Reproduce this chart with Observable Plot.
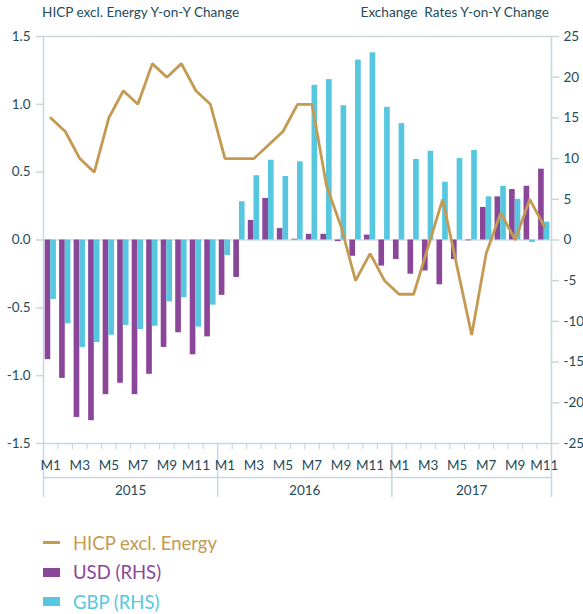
<!DOCTYPE html>
<html>
<head>
<meta charset="utf-8">
<script src="https://cdn.jsdelivr.net/npm/d3@7"></script>
<script src="https://cdn.jsdelivr.net/npm/@observablehq/plot@0.6"></script>
<style>
  html, body { margin: 0; padding: 0; background: #fff; }
  body { width: 583px; height: 614px; font-family: Lato, "Open Sans", sans-serif; color: #1e4b5a; }
  #header { position: relative; height: 26px; font-size: 13.6px; }
  #header .l { position: absolute; left: 42px; top: 4px; }
  #header .r { position: absolute; right: 34px; top: 4px; white-space: pre; }
  #legend { padding-top: 2px; padding-left: 43px; }
  .item { height: 29.5px; display: flex; align-items: center; font-size: 18.5px; }
  .sw { display: inline-block; width: 17px; margin-right: 13px; }
</style>
</head>
<body>
<div id="header"><span class="l">HICP excl. Energy Y-on-Y Change</span><span class="r">Exchange  Rates Y-on-Y Change</span></div>
<div id="chart"></div>
<div id="legend"></div>
<script>
// Months Jan 2015 – Nov 2017
const years = ["2015", "2016", "2017"];
const yearMonths = [12, 12, 11];
const monthLabels = ["M1","M2","M3","M4","M5","M6","M7","M8","M9","M10","M11","M12"];

// HICP excl. Energy, y-on-y % (LHS)
const hicp = [0.9, 0.8, 0.6, 0.5, 0.9, 1.1, 1.0, 1.3, 1.2, 1.3, 1.1, 1.0,
              0.6, 0.6, 0.6, 0.7, 0.8, 1.0, 1.0, 0.4, 0.1, -0.3, -0.1, -0.3,
              -0.4, -0.4, -0.05, 0.3, -0.2, -0.7, -0.1, 0.2, 0.0, 0.3, 0.1];
// USD y-on-y % (RHS)
const usd = [-14.7, -17.0, -21.8, -22.2, -19.0, -17.6, -19.0, -16.5, -13.2, -11.4, -14.1, -11.9,
             -6.8, -4.6, 2.4, 5.1, 1.4, 0.1, 0.7, 0.7, -0.2, -2.0, 0.6, -3.2,
             -2.4, -4.2, -3.8, -5.5, -2.4, -0.1, 4.0, 5.3, 6.2, 6.6, 8.7];
// GBP y-on-y % (RHS)
const gbp = [-7.3, -10.3, -13.2, -12.6, -11.7, -10.5, -11.0, -10.6, -7.6, -7.1, -10.7, -8.0,
             -1.9, 4.7, 7.9, 9.8, 7.8, 9.6, 19.0, 19.7, 16.5, 22.1, 23.0, 16.3,
             14.3, 9.9, 10.9, 7.1, 10.0, 11.0, 5.3, 6.6, 5.0, -0.3, 2.2];

const leftTicks = [-1.5, -1.0, -0.5, 0.0, 0.5, 1.0, 1.5];
const rightTicks = [-25, -20, -15, -10, -5, 0, 5, 10, 15, 20, 25];

const cLine = "#c49a52", cUsd = "#8a4699", cGbp = "#56c7df";
const cAxis = "#c9d7dd", cText = "#1e4b5a";

const n = hicp.length;
const idx = d3.range(n);
const k = leftTicks[leftTicks.length - 1] / rightTicks[rightTicks.length - 1]; // RHS -> LHS units

// Year boundaries and centers
const yearStarts = [];
{ let s = 0; for (const m of yearMonths) { yearStarts.push(s); s += m; } }
const yearCenters = yearStarts.map((s, j) => s + yearMonths[j] / 2);
const innerBoundaries = idx.slice(1).filter(i => !yearStarts.includes(i));
const monthOf = i => { let j = 0; while (j + 1 < yearStarts.length && yearStarts[j + 1] <= i) j++; return i - yearStarts[j]; };
const oddCenters = idx.filter(i => monthOf(i) % 2 === 0).map(i => i + 0.5);

const chart = Plot.plot({
  width: 583,
  height: 500,
  marginTop: 10,
  marginBottom: 83,
  marginLeft: 43,
  marginRight: 32,
  style: {fontFamily: "Lato, 'Open Sans', sans-serif", fontSize: "13px", background: "white", overflow: "visible"},
  x: {domain: [0, n], axis: null},
  y: {domain: [leftTicks[0], leftTicks[leftTicks.length - 1]], axis: null},
  marks: [
    Plot.ruleY([0], {stroke: "#d5dfe3", strokeWidth: 1.5}),
    Plot.rectY(idx, {x1: i => i + 0.11, x2: i => i + 0.5, y1: 0, y2: i => usd[i] * k, fill: cUsd}),
    Plot.rectY(idx, {x1: i => i + 0.5, x2: i => i + 0.89, y1: 0, y2: i => gbp[i] * k, fill: cGbp}),
    Plot.line(idx, {x: i => i + 0.5, y: i => hicp[i], stroke: cLine, strokeWidth: 2.8, strokeLinejoin: "miter"}),
    // frame
    Plot.ruleY([leftTicks[0], leftTicks[leftTicks.length - 1]], {x1: 0, x2: n, stroke: cAxis, strokeWidth: 1.5}),
    Plot.ruleX([0, n], {y1: leftTicks[leftTicks.length - 1], y2: leftTicks[0], insetBottom: -54, stroke: cAxis, strokeWidth: 1.5}),
    Plot.ruleX(yearStarts.slice(1), {y1: leftTicks[0], y2: leftTicks[0], insetBottom: -54, stroke: cAxis, strokeWidth: 1.5}),
    Plot.ruleY([leftTicks[0]], {x1: 0, x2: n, dy: 34, stroke: cAxis, strokeWidth: 1.5}),
    // left axis
    Plot.axisY({anchor: "left", ticks: leftTicks, tickFormat: d => d.toFixed(1), tickSize: 7, tickPadding: 6, stroke: cAxis, strokeWidth: 1.5, fill: cText, fontSize: 13.5}),
    // right axis
    Plot.axisY({anchor: "right", ticks: rightTicks.map(v => v * k), tickFormat: d => String(Math.round(d / k)), tickSize: 7, tickPadding: 5, stroke: cAxis, strokeWidth: 1.5, fill: cText, fontSize: 13.5}),
    // month ticks
    Plot.axisX({anchor: "bottom", ticks: innerBoundaries, tickFormat: () => "", tickSize: 6, stroke: cAxis, strokeWidth: 1.2}),
    // month labels
    Plot.axisX({anchor: "bottom", ticks: oddCenters, tickFormat: d => monthLabels[monthOf(Math.floor(d))], tickSize: 0, tickPadding: 17, fill: cText, fontSize: 13.5}),
    // year labels
    Plot.axisX({anchor: "bottom", ticks: yearCenters, tickFormat: d => years[yearCenters.indexOf(d)], tickSize: 0, tickPadding: 42, fill: cText, fontSize: 13.5})
  ]
});
document.getElementById("chart").appendChild(chart);

// legend
const legendItems = [
  {label: "HICP excl. Energy", color: cLine, kind: "line"},
  {label: "USD (RHS)", color: cUsd, kind: "rect"},
  {label: "GBP (RHS)", color: cGbp, kind: "rect"}
];
const lg = document.getElementById("legend");
for (const it of legendItems) {
  const row = document.createElement("div");
  row.className = "item";
  const sw = document.createElement("span");
  sw.className = "sw";
  sw.style.background = it.color;
  sw.style.height = it.kind === "line" ? "3px" : "9px";
  const t = document.createElement("span");
  t.textContent = it.label;
  t.style.color = it.color;
  row.appendChild(sw); row.appendChild(t);
  lg.appendChild(row);
}
</script>
</body>
</html>
